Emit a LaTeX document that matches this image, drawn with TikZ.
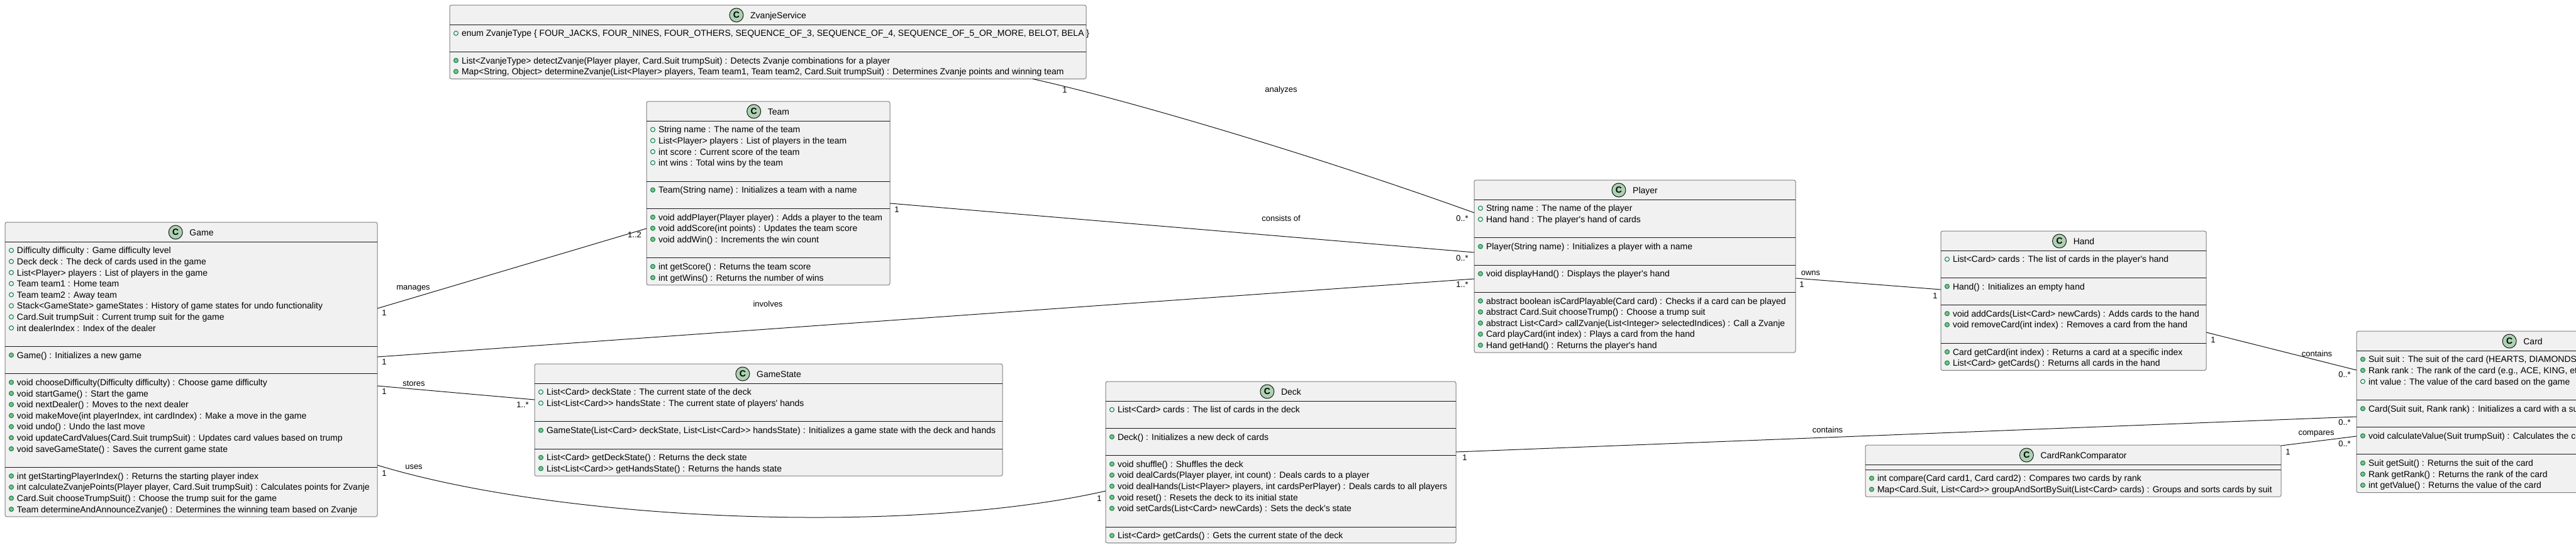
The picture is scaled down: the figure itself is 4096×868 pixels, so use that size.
\documentclass[tikz,border=0pt]{standalone}
\usepackage{fontspec}
\newfontfamily\umlfont{Liberation Sans}
\usetikzlibrary{calc}
\definecolor{boxfill}{HTML}{F1F1F1}
\definecolor{boxline}{HTML}{808080}
\definecolor{ink}{HTML}{181818}
\definecolor{spotfill}{HTML}{ADD1B2}
\definecolor{mkline}{HTML}{038048}
\definecolor{mkfill}{HTML}{84BE84}
\newcount\lnum
\def\LH{17.6}
\tikzset{
  classbox/.style={draw=boxline, fill=boxfill, line width=1pt, rounded corners=3pt, inner sep=0pt, outer sep=0pt},
  sepline/.style={draw=ink, line width=1pt},
  membertext/.style={anchor=base west, inner sep=0pt, outer sep=0pt, font=\umlfont\fontsize{14}{17}\selectfont},
  titletext/.style={anchor=base, inner sep=0pt, font=\umlfont\fontsize{14}{17}\selectfont},
  spot/.style={circle, draw=ink, fill=spotfill, line width=1pt, minimum size=22pt, inner sep=0pt, font=\umlfont\bfseries\fontsize{14}{17}\selectfont},
  fldmark/.style={circle, draw=mkline, line width=1pt, minimum size=7pt, inner sep=0pt},
  mthmark/.style={circle, draw=mkline, fill=mkfill, line width=1pt, minimum size=7pt, inner sep=0pt},
  conn/.style={draw=ink, line width=1pt},
  lbl/.style={inner sep=0pt, font=\umlfont\fontsize{13}{15}\selectfont},
}
\newcommand\cls[7]{%
  \pgfmathsetmacro\clsH{31+8*#5+\LH*#6}%
  \node[classbox, minimum width=#4, minimum height=\clsH, anchor=north west] (#1) at (#2,#3) {};%
  \node[titletext] (#1-title) at (#2+#4/2+16.5,#3+21) {#7};%
  \node[spot] (#1-icon) at ($(#1-title.base west)+(-22,-5)$) {C};%
  \pgfmathsetmacro\clsX{#2}%
  \pgfmathsetmacro\clsXR{#2+#4}%
  \pgfmathsetmacro\clsY{#3+31-3}%
  \def\clsName{#1}}
\newcommand\sect{%
  \pgfmathsetmacro\clsY{\clsY+3}%
  \draw[sepline] (\clsX,\clsY) -- (\clsXR,\clsY);%
  \pgfmathsetmacro\clsY{\clsY+5}}
\newcommand\mem[2]{%
  \global\advance\lnum by 1
  \pgfmathsetmacro\clsYc{\clsY+\LH/2}%
  \node[#1] (\clsName-m\the\lnum) at (\clsX+10,\clsYc) {};%
  \node[membertext] (\clsName-t\the\lnum) at (\clsX+19,\clsYc+5) {#2};%
  \pgfmathsetmacro\clsY{\clsY+\LH}}
\newcommand\fl[1]{\mem{fldmark}{#1}}
\newcommand\ml[1]{\mem{mthmark}{#1}}
\newcommand\bl{\pgfmathsetmacro\clsY{\clsY+\LH}}
\begin{document}
\begin{tikzpicture}[x=1pt,y=-1pt]
\path[use as bounding box] (0,0) rectangle (4096,868);
\fill[white] (0,0) rectangle (4096,868);
\clip (0,0) rectangle (4096,868);

% ZvanjeService
\cls{zs}{715}{8}{1012}{2}{4}{ZvanjeService}
\sect
\fl{enum ZvanjeType \{ FOUR\_JACKS, FOUR\_NINES, FOUR\_OTHERS, SEQUENCE\_OF\_3, SEQUENCE\_OF\_4, SEQUENCE\_OF\_5\_OR\_MORE, BELOT, BELA \}}
\bl
\sect
\ml{List<ZvanjeType> detectZvanje(Player player, Card.Suit trumpSuit) : Detects Zvanje combinations for a player}
\ml{Map<String, Object> determineZvanje(List<Player> players, Team team1, Team team2, Card.Suit trumpSuit) : Determines Zvanje points and winning team}

% Team
\cls{team}{1028}{161}{387}{4}{13}{Team}
\sect
\fl{String name : The name of the team}
\fl{List<Player> players : List of players in the team}
\fl{int score : Current score of the team}
\fl{int wins : Total wins by the team}
\bl
\sect
\ml{Team(String name) : Initializes a team with a name}
\bl
\sect
\ml{void addPlayer(Player player) : Adds a player to the team}
\ml{void addScore(int points) : Updates the team score}
\ml{void addWin() : Increments the win count}
\bl
\sect
\ml{int getScore() : Returns the team score}
\ml{int getWins() : Returns the number of wins}

% Game
\cls{game}{8}{353}{592}{4}{23}{Game}
\sect
\fl{Difficulty difficulty : Game difficulty level}
\fl{Deck deck : The deck of cards used in the game}
\fl{List<Player> players : List of players in the game}
\fl{Team team1 : Home team}
\fl{Team team2 : Away team}
\fl{Stack<GameState> gameStates : History of game states for undo functionality}
\fl{Card.Suit trumpSuit : Current trump suit for the game}
\fl{int dealerIndex : Index of the dealer}
\bl
\sect
\ml{Game() : Initializes a new game}
\bl
\sect
\ml{void chooseDifficulty(Difficulty difficulty) : Choose game difficulty}
\ml{void startGame() : Start the game}
\ml{void nextDealer() : Moves to the next dealer}
\ml{void makeMove(int playerIndex, int cardIndex) : Make a move in the game}
\ml{void undo() : Undo the last move}
\ml{void updateCardValues(Card.Suit trumpSuit) : Updates card values based on trump}
\ml{void saveGameState() : Saves the current game state}
\bl
\sect
\ml{int getStartingPlayerIndex() : Returns the starting player index}
\ml{int calculateZvanjePoints(Player player, Card.Suit trumpSuit) : Calculates points for Zvanje}
\ml{Card.Suit chooseTrumpSuit() : Choose the trump suit for the game}
\ml{Team determineAndAnnounceZvanje() : Determines the winning team based on Zvanje}

% GameState
\cls{gs}{850}{578}{744}{3}{7}{GameState}
\sect
\fl{List<Card> deckState : The current state of the deck}
\fl{List<List<Card>> handsState : The current state of players' hands}
\bl
\sect
\ml{GameState(List<Card> deckState, List<List<Card>> handsState) : Initializes a game state with the deck and hands}
\bl
\sect
\ml{List<Card> getDeckState() : Returns the deck state}
\ml{List<List<Card>> getHandsState() : Returns the hands state}

% Player
\cls{player}{2344}{286}{511}{4}{12}{Player}
\sect
\fl{String name : The name of the player}
\fl{Hand hand : The player's hand of cards}
\bl
\sect
\ml{Player(String name) : Initializes a player with a name}
\bl
\sect
\ml{void displayHand() : Displays the player's hand}
\bl
\sect
\ml{abstract boolean isCardPlayable(Card card) : Checks if a card can be played}
\ml{abstract Card.Suit chooseTrump() : Choose a trump suit}
\ml{abstract List<Card> callZvanje(List<Integer> selectedIndices) : Call a Zvanje}
\ml{Card playCard(int index) : Plays a card from the hand}
\ml{Hand getHand() : Returns the player's hand}

% Hand
\cls{hand}{3086}{367}{422}{4}{9}{Hand}
\sect
\fl{List<Card> cards : The list of cards in the player's hand}
\bl
\sect
\ml{Hand() : Initializes an empty hand}
\bl
\sect
\ml{void addCards(List<Card> newCards) : Adds cards to the hand}
\ml{void removeCard(int index) : Removes a card from the hand}
\bl
\sect
\ml{Card getCard(int index) : Returns a card at a specific index}
\ml{List<Card> getCards() : Returns all cards in the hand}

% Card
\cls{card}{3747}{526}{528}{4}{11}{Card}
\sect
\ml{Suit suit : The suit of the card (HEARTS, DIAMONDS, CLUBS, SPADES)}
\ml{Rank rank : The rank of the card (e.g., ACE, KING, etc.)}
\fl{int value : The value of the card based on the game}
\bl
\sect
\ml{Card(Suit suit, Rank rank) : Initializes a card with a suit and rank}
\bl
\sect
\ml{void calculateValue(Suit trumpSuit) : Calculates the card value}
\bl
\sect
\ml{Suit getSuit() : Returns the suit of the card}
\ml{Rank getRank() : Returns the rank of the card}
\ml{int getValue() : Returns the value of the card}

% Deck
\cls{deck}{1758}{606}{557}{4}{11}{Deck}
\sect
\fl{List<Card> cards : The list of cards in the deck}
\bl
\sect
\ml{Deck() : Initializes a new deck of cards}
\bl
\sect
\ml{void shuffle() : Shuffles the deck}
\ml{void dealCards(Player player, int count) : Deals cards to a player}
\ml{void dealHands(List<Player> players, int cardsPerPlayer) : Deals cards to all players}
\ml{void reset() : Resets the deck to its initial state}
\ml{void setCards(List<Card> newCards) : Sets the deck's state}
\bl
\sect
\ml{List<Card> getCards() : Gets the current state of the deck}

% CardRankComparator
\cls{crc}{2966}{707}{661}{2}{2}{CardRankComparator}
\sect
\sect
\ml{int compare(Card card1, Card card2) : Compares two cards by rank}
\ml{Map<Card.Suit, List<Card>> groupAndSortBySuit(List<Card> cards) : Groups and sorts cards by suit}

% connectors
\draw[conn] ($(zs.south west)+(927,0)$) .. controls +(158,35) and +(-244,-88) .. ($(player.north west)+(0,52)$);
\draw[conn] ($(team.north east)+(0,162)$) -- ($(player.north west)+(0,115)$);
\draw[conn] ($(game.north east)+(0,214)$) -- ($(player.north west)+(0,157)$);
\draw[conn] ($(game.north east)+(0,137)$) -- ($(team.north west)+(0,202)$);
\draw[conn] ($(game.north east)+(0,260)$) -- ($(gs.north west)+(0,57)$);
\draw[conn] ($(game.north east)+(0,386)$) .. controls +(300,91) and +(-308,70) .. ($(deck.north west)+(0,174)$);
\draw[conn] ($(player.north east)+(0,156)$) -- ($(hand.north west)+(0,93)$);
\draw[conn] ($(hand.north east)+(0,161)$) -- ($(card.north west)+(0,62)$);
\draw[conn] ($(deck.north east)+(0,112)$) -- ($(card.north west)+(0,136)$);
\draw[conn] ($(crc.north east)+(0,1)$) -- ($(card.north west)+(0,167)$);

% labels
\node[lbl] (l-analyzes) at (2037,143) {analyzes};
\node[lbl] (m-zs) at (1693,143) {1};
\node[lbl] (m-pl-zs) at (2325,347) {0..*};
\node[lbl] (l-consists) at (2037,347) {consists of};
\node[lbl] (m-team-pl) at (1426,333) {1};
\node[lbl] (m-pl-team) at (2325,410) {0..*};
\node[lbl] (l-involves) at (1221,483) {involves};
\node[lbl] (m-game-pl) at (611,575) {1};
\node[lbl] (m-pl-game) at (2325,452) {1..*};
\node[lbl] (l-manages) at (657,458) {manages};
\node[lbl] (m-game-team) at (611,497) {1};
\node[lbl] (m-team-game) at (1009,373) {1..2};
\node[lbl] (l-stores) at (658,609) {stores};
\node[lbl] (m-game-gs) at (611,622) {1};
\node[lbl] (m-gs-game) at (831,643) {1..*};
\node[lbl] (l-uses) at (658,742) {uses};
\node[lbl] (m-game-deck) at (611,752) {1};
\node[lbl] (m-deck-game) at (1748,792) {1};
\node[lbl] (l-owns) at (2879,434) {owns};
\node[lbl] (m-pl-hand) at (2865,452) {1};
\node[lbl] (m-hand-pl) at (3077,470) {1};
\node[lbl] (l-contains1) at (3684,562) {contains};
\node[lbl] (m-hand-card) at (3519,540) {1};
\node[lbl] (m-card-hand) at (3728,595) {0..*};
\node[lbl] (l-contains2) at (2906,683) {contains};
\node[lbl] (m-deck-card) at (2329,727) {1};
\node[lbl] (m-card-deck) at (3728,671) {0..*};
\node[lbl] (l-compares) at (3683,689) {compares};
\node[lbl] (m-crc-card) at (3638,718) {1};
\node[lbl] (m-card-crc) at (3728,705) {0..*};
\end{tikzpicture}
\end{document}
